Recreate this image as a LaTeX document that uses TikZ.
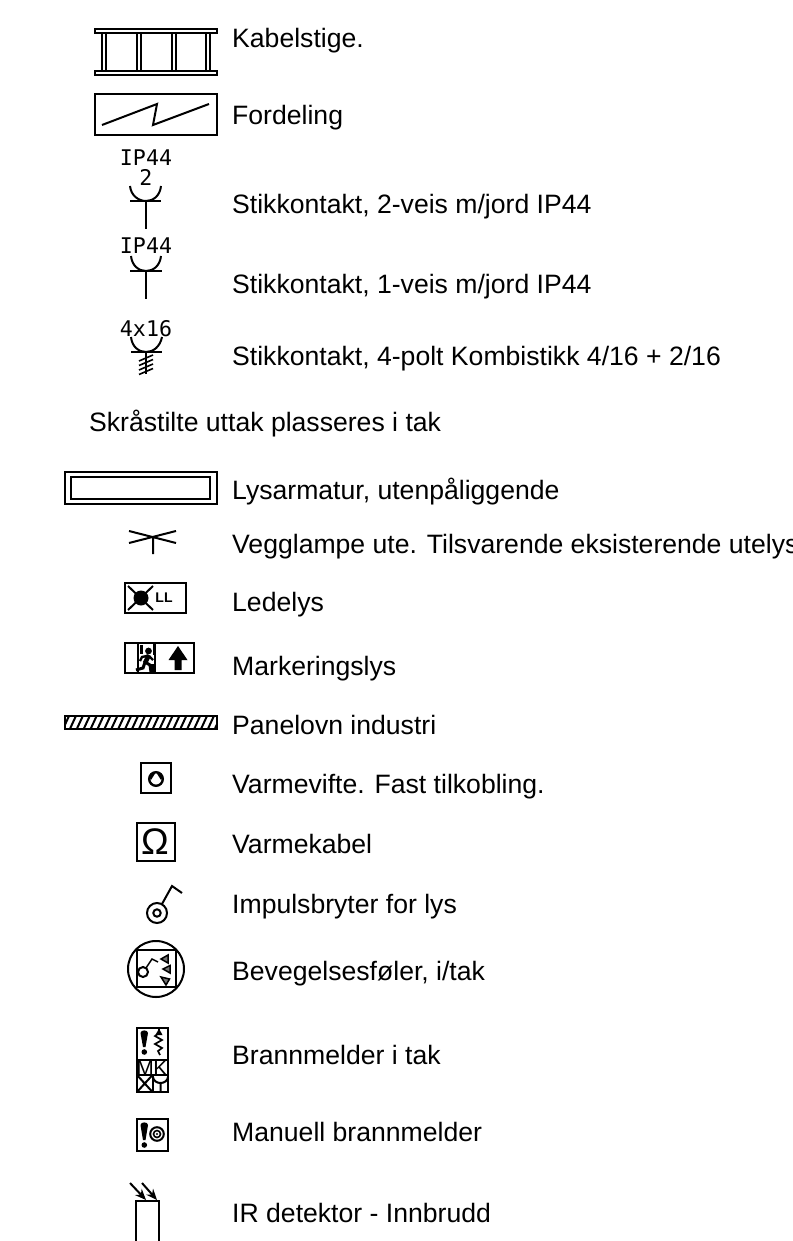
\documentclass[tikz,border=0pt]{standalone}
\usepackage{fontspec}
\setmainfont{Liberation Sans}
\newfontfamily\monof{DejaVu Sans Mono}
\usetikzlibrary{arrows.meta}
\tikzset{
  lbl/.style={anchor=base west,inner sep=0pt,font=\fontsize{26.6}{28}\selectfont,text=black},
  tag/.style={inner sep=0pt,font=\monof\fontsize{21.6}{22}\selectfont},
  sym/.style={line width=2pt,draw=black},
  thin sym/.style={line width=1.5pt,draw=black},
  ticks/.style={line width=1.6pt,draw=black},
  irarrow/.style={line width=2pt,draw=black,-{Stealth[length=11pt,width=9pt]}},
}
\begin{document}
\begin{tikzpicture}[x=1pt,y=-1pt]
\useasboundingbox (0,0) rectangle (792,1241);
\fill[white] (0,0) rectangle (792,1241);
\clip (0,0) rectangle (792,1241);
% labels
\node[lbl] (t1) at (232,48) {Kabelstige.};
\node[lbl] (t2) at (232,125) {Fordeling};
\node[lbl] (t3) at (232,214) {Stikkontakt, 2-veis m/jord IP44};
\node[lbl] (t4) at (232,293) {Stikkontakt, 1-veis m/jord IP44};
\node[lbl] (t5) at (232,365) {Stikkontakt, 4-polt Kombistikk 4/16 + 2/16};
\node[lbl] (t6) at (89,431) {Skråstilte uttak plasseres i tak};
\node[lbl] (t7) at (232,499) {Lysarmatur, utenpåliggende};
\node[lbl] (t8) at (232,553) {Vegglampe ute. Tilsvarende eksisterende utelys};
\node[lbl] (t9) at (232,611) {Ledelys};
\node[lbl] (t10) at (232,675) {Markeringslys};
\node[lbl] (t11) at (232,734) {Panelovn industri};
\node[lbl] (t12) at (232,793) {Varmevifte. Fast tilkobling.};
\node[lbl] (t13) at (232,853) {Varmekabel};
\node[lbl] (t14) at (232,913) {Impulsbryter for lys};
\node[lbl] (t15) at (232,980) {Bevegelsesføler, i/tak};
\node[lbl] (t16) at (232,1064) {Brannmelder i tak};
\node[lbl] (t17) at (232,1141) {Manuell brannmelder};
\node[lbl] (t18) at (232,1222) {IR detektor - Innbrudd};
% ladder
\draw[sym] (95,29.5) rectangle (217,33.5);
\draw[sym] (95,71.5) rectangle (217,75.5);
\foreach \a in {102,137,172,206}{\draw[sym] (\a,34) -- (\a,71) (\a+3.5,34) -- (\a+3.5,71);}
% distribution
\draw[sym] (95,94) rectangle (217,135);
\draw[sym] (102,125) -- (157,104) -- (153,125) -- (209,104);
% outlets
\node[tag] (o1) at (146,158) {IP44};
\node[tag] (o1b) at (146,177) {2};
\draw[sym] (130,186) .. controls (131,196) and (139,201) .. (146,201) .. controls (153,201) and (160,196) .. (161,186);
\draw[sym] (130,201) -- (161,201) (145.5,201) -- (145.5,229);
\node[tag] (o2) at (146,246) {IP44};
\draw[sym] (131,256) .. controls (132,266) and (139,271) .. (146,271) .. controls (153,271) and (160,266) .. (161,256);
\draw[sym] (130,271) -- (162,271) (146,271) -- (146,299);
\node[tag] (o3) at (146,329) {4x16};
\draw[sym] (131,337) .. controls (132,347) and (139,352) .. (146,352) .. controls (153,352) and (160,347) .. (162,337);
\draw[sym] (131,352) -- (162,352) (146,352) -- (146,374);
\foreach \a in {358,362.5,367,371.5}{\draw[ticks] (139,\a+3) -- (153,\a-3);}
% luminaire
\draw[sym] (65,472) rectangle (217,504);
\draw[sym] (71,477) rectangle (210,499);
% wall lamp
\draw[sym] (129,531) -- (176,543) (129,543) -- (176,531) (153,537) -- (153,554);
% exit guide light
\draw[sym] (125,583) rectangle (186,613);
\draw[sym] (128,586) -- (153,610) (128,610) -- (153,586);
\fill (141,598) circle (7.5);
\node[inner sep=0pt,font=\bfseries\fontsize{14}{14}\selectfont] (ll) at (164,598) {LL};
% marking light
\draw[sym] (125,643) rectangle (194,673);
\draw[line width=2.4pt] (138,643) -- (138,673) (155,643) -- (155,673);
\fill (148.5,651) circle (3.4);
\fill (140,645) rectangle (143,654);
\fill (153,644) rectangle (155,655);
\fill (151,664) rectangle (155,672);
\draw[line width=4.5pt] (149,655) -- (145,663);
\draw[line width=3pt] (145,662) -- (143,668) -- (136,670);
\draw[line width=3pt] (145,662) -- (150,665) -- (151,672);
\draw[line width=2.4pt] (147,656) -- (142,657) -- (140,661);
\draw[line width=2.4pt] (149,656) -- (153,660);
\fill (178,646) -- (187.5,660) -- (181.5,660) -- (181.5,670) -- (174.5,670) -- (174.5,660) -- (168.5,660) -- cycle;
% panel heater
\draw[sym] (65,716) rectangle (217,729);
\begin{scope}
\clip (65,716) rectangle (217,729);
\foreach \i in {0,...,22}{\draw[line width=2pt] (63+\i*6.9,729) -- (69+\i*6.9,716);}
\end{scope}
% fan heater
\draw[sym] (141,763) rectangle (171,793);
\draw[line width=2.4pt] (156,779) circle (6.8);
\fill (149,776) -- (156,772) -- (151,780) -- cycle;
\fill (163,776) -- (156,772) -- (161,780) -- cycle;
% heating cable
\draw[sym] (137,823) rectangle (175,861);
\node[inner sep=0pt,font=\fontsize{37}{38}\selectfont] (om) at (155,842) {Ω};
% pulse switch
\draw[sym] (157,913) circle (10);
\draw[sym] (157,913) circle (3.7);
\draw[sym] (162,904) -- (172,886) -- (182,893);
% motion sensor
\draw[sym] (156,969) circle (28);
\draw[sym] (137,950) rectangle (176,987);
\draw[sym] (143,972) circle (5);
\draw[thin sym] (146,968) -- (152,959) -- (158,962);
\draw[thin sym,fill=black!55] (161,959) -- (168,955) -- (168,963) -- cycle;
\draw[thin sym,fill=black!55] (163,969) -- (170,965.5) -- (170,973) -- cycle;
\draw[thin sym,fill=black!55] (161,977) -- (169.5,979) -- (166,985) -- cycle;
% fire detector
\draw[sym] (137,1028) rectangle (168,1092);
\draw[sym] (137,1060) -- (168,1060) (137,1075) -- (168,1075) (152.5,1075) -- (152.5,1092);
\fill (140.5,1033) .. controls (140.5,1029.5) and (148,1029.5) .. (148,1033) -- (145.5,1047) -- (143,1047) -- cycle;
\fill (144.3,1052) circle (2.8);
\draw[line width=1.7pt] (159,1029) -- (159,1033) -- (155,1036) -- (162,1040) -- (155,1044) -- (162,1048) -- (158,1051) -- (160,1055);
\fill (159,1028.5) -- (162.5,1035) -- (155.5,1035) -- cycle;
\node[inner sep=0pt,font=\fontsize{21}{21}\selectfont] (mm) at (145,1068) {M};
\node[inner sep=0pt,font=\fontsize{21}{21}\selectfont] (kk) at (160.5,1068) {K};
\draw[sym] (137,1075) -- (152.5,1092) (152.5,1075) -- (137,1092);
\draw[sym] (153,1077) .. controls (154,1085) and (167,1085) .. (168,1077) (160.5,1082) -- (160.5,1092);
% manual call point
\draw[sym] (137,1119) rectangle (168,1151);
\fill (140.5,1125) .. controls (140.5,1121.5) and (148,1121.5) .. (148,1125) -- (145.5,1140) -- (143,1140) -- cycle;
\fill (144.3,1145) circle (2.8);
\draw[sym] (157,1134) circle (6.8);
\draw[line width=1.6pt] (157,1134) circle (3.5);
\fill (157,1134) circle (1.2);
% IR detector
\draw[sym] (136,1241.5) -- (136,1201) -- (159,1201) -- (159,1241.5);
\coordinate (a1) at (130,1183); \coordinate (b1) at (146,1200);
\coordinate (a2) at (142,1183); \coordinate (b2) at (157,1200);
\draw[irarrow] (a1) -- (b1);
\draw[irarrow] (a2) -- (b2);
\end{tikzpicture}
\end{document}
